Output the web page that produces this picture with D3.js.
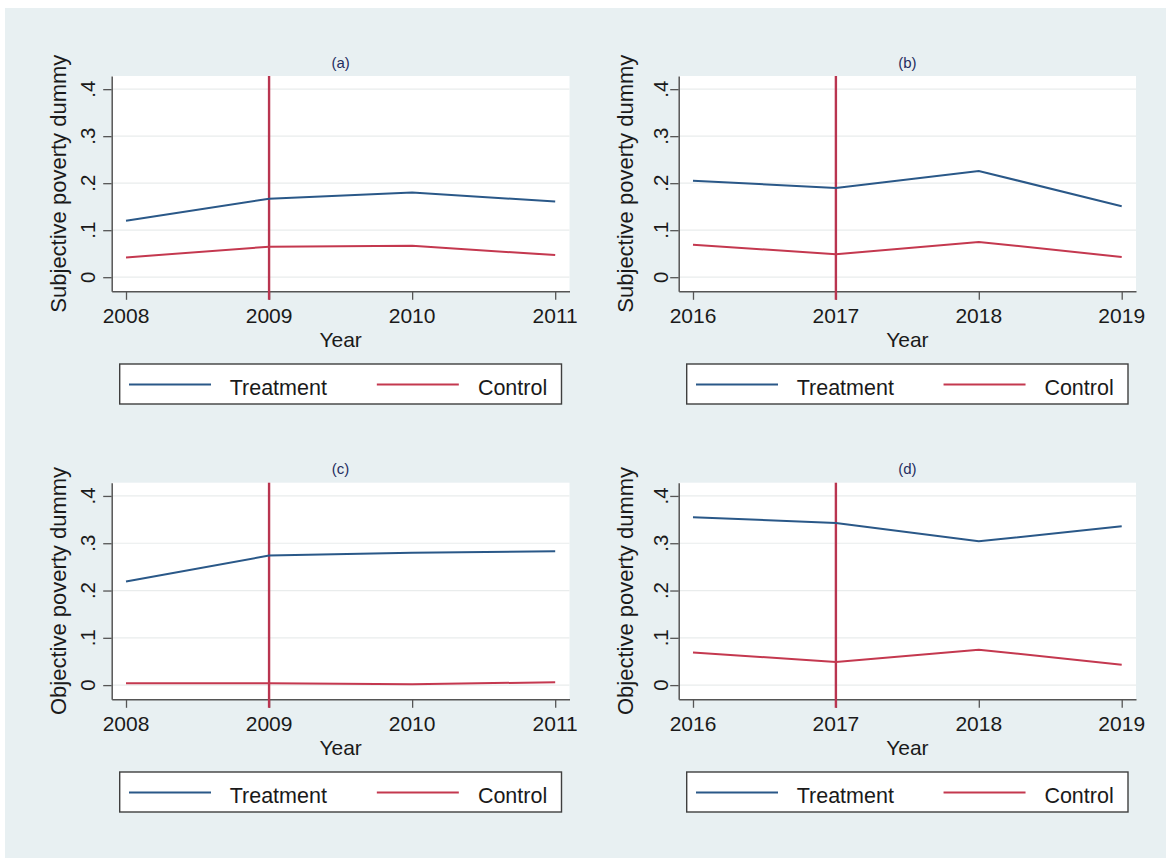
<!DOCTYPE html>
<html>
<head>
<meta charset="utf-8">
<script src="https://cdn.jsdelivr.net/npm/d3@7"></script>
<style>
  body { margin: 0; background: #fff; }
  svg { display: block; }
  text { font-family: "Liberation Sans", Arial, Helvetica, sans-serif; }
</style>
</head>
<body>
<div id="chart"></div>
<script>
// Survey waves
const years1 = [2008, 2009, 2010, 2011];
const years2 = [2016, 2017, 2018, 2019];
const eventYear1 = 2009;
const eventYear2 = 2017;

// Share of households in poverty, by group
const subjTreat1 = [0.120, 0.167, 0.180, 0.161];
const subjCtrl1  = [0.042, 0.065, 0.067, 0.047];
const subjTreat2 = [0.205, 0.190, 0.226, 0.151];
const subjCtrl2  = [0.069, 0.049, 0.075, 0.043];
const objTreat1  = [0.219, 0.274, 0.280, 0.283];
const objCtrl1   = [0.004, 0.004, 0.002, 0.006];
const objTreat2  = [0.355, 0.343, 0.304, 0.336];
const objCtrl2   = [0.069, 0.049, 0.075, 0.043];

const yTicks = [0, 0.1, 0.2, 0.3, 0.4];
const yTickLabels = ["0", ".1", ".2", ".3", ".4"];
const panelTitles = ["(a)", "(b)", "(c)", "(d)"];
const yTitles = ["Subjective poverty dummy", "Objective poverty dummy"];
const xTitle = "Year";
const seriesNames = ["Treatment", "Control"];

const colors = { treat: "#2a5888", ctrl: "#c4384f", event: "#b93550", ink: "#1a1a1a", axis: "#555" };

const panels = [
  { title: panelTitles[0], years: years1, treat: subjTreat1, ctrl: subjCtrl1, event: eventYear1, yTitle: yTitles[0], col: 0, row: 0 },
  { title: panelTitles[1], years: years2, treat: subjTreat2, ctrl: subjCtrl2, event: eventYear2, yTitle: yTitles[0], col: 1, row: 0 },
  { title: panelTitles[2], years: years1, treat: objTreat1,  ctrl: objCtrl1,  event: eventYear1, yTitle: yTitles[1], col: 0, row: 1 },
  { title: panelTitles[3], years: years2, treat: objTreat2,  ctrl: objCtrl2,  event: eventYear2, yTitle: yTitles[1], col: 1, row: 1 }
];

// Layout of the 2x2 grid
const cols = [
  { left: 111.7, right: 569.5, tickLabGap: 16.5, pad: 0.1 },
  { left: 678.7, right: 1136, tickLabGap: 11, pad: 0.1 }
];
const rows = [
  { top: 76, bottom: 291.3 },
  { top: 482.7, bottom: 699.3 }
];

const W = 1166, H = 858;
const xTickFs = 21, yTickFs = 20.5, legendFs = 21.5, capRatio = 0.716;

const svg = d3.select("#chart").append("svg").attr("width", W).attr("height", H);
svg.append("rect").attr("width", W).attr("height", H).attr("fill", "#fff");
svg.append("rect").attr("x", 5).attr("y", 8).attr("width", W - 5).attr("height", H - 8).attr("fill", "#e8f0f2");

function hText(parent, x, y, str, size, anchor, fill) {
  return parent.append("text")
    .attr("x", x).attr("y", y)
    .attr("text-anchor", anchor).attr("font-size", size).attr("fill", fill)
    .text(str);
}

panels.forEach(p => {
  const c = cols[p.col], r = rows[p.row];
  const x = d3.scaleLinear()
    .domain([p.years[0] - c.pad, p.years[p.years.length - 1] + c.pad])
    .range([c.left, c.right]);
  const y = d3.scaleLinear().domain([-0.03, 0.428]).range([r.bottom, r.top]);
  const g = svg.append("g");
  const cx = (c.left + c.right) / 2;

  // plot region
  g.append("rect")
    .attr("x", c.left).attr("y", r.top)
    .attr("width", c.right - c.left).attr("height", r.bottom - r.top)
    .attr("fill", "#fff");

  // horizontal grid
  g.selectAll(".grid").data(yTicks).join("line")
    .attr("x1", c.left).attr("x2", c.right)
    .attr("y1", d => y(d)).attr("y2", d => y(d))
    .attr("stroke", "#e9ecec").attr("stroke-width", 1.2);

  // axes (lines and ticks; labels set separately)
  const yAxis = g.append("g").attr("transform", `translate(${c.left},0)`)
    .call(d3.axisLeft(y).tickValues(yTicks).tickFormat("").tickSize(8.5).tickSizeOuter(0));
  const xAxis = g.append("g").attr("transform", `translate(0,${r.bottom})`)
    .call(d3.axisBottom(x).tickValues(p.years).tickFormat("").tickSize(8.5).tickSizeOuter(0));
  [yAxis, xAxis].forEach(a => {
    a.select(".domain").attr("stroke", colors.axis).attr("stroke-width", 1.5);
    a.selectAll(".tick line").attr("stroke", colors.axis).attr("stroke-width", 1.3);
    a.selectAll(".tick text").remove();
  });

  // y tick labels, rotated, baseline facing the axis
  g.selectAll(".ylab").data(yTicks).join("text")
    .attr("transform", d => `translate(${c.left - c.tickLabGap},${y(d)}) rotate(-90)`)
    .attr("text-anchor", "middle").attr("font-size", yTickFs).attr("fill", colors.ink)
    .text((d, i) => yTickLabels[i]);

  // x tick labels
  p.years.forEach(yr => hText(g, x(yr), r.bottom + 32, d3.format("d")(yr), xTickFs, "middle", colors.ink));

  // treatment onset
  g.append("line")
    .attr("x1", x(p.event)).attr("x2", x(p.event))
    .attr("y1", r.top).attr("y2", r.bottom + 8.5)
    .attr("stroke", colors.event).attr("stroke-width", 2.4);

  // series
  const line = d3.line().x((d, i) => x(p.years[i])).y(d => y(d));
  g.append("path").datum(p.ctrl).attr("d", line)
    .attr("fill", "none").attr("stroke", colors.ctrl).attr("stroke-width", 2);
  g.append("path").datum(p.treat).attr("d", line)
    .attr("fill", "none").attr("stroke", colors.treat).attr("stroke-width", 2);

  // panel title
  hText(g, cx, r.top - 8.5, p.title, 15, "middle", "#1f2d5e");

  // axis titles
  hText(g, cx, r.bottom + 56, xTitle, 21, "middle", colors.ink);
  g.append("text")
    .attr("transform", `translate(${c.left - 45.5},${(r.top + r.bottom) / 2}) rotate(-90)`)
    .attr("text-anchor", "middle").attr("font-size", 22).attr("fill", colors.ink)
    .text(p.yTitle);

  // legend
  const lx = c.left + 8, lw = (c.right - c.left) - 16, ly = r.bottom + 72.7, lh = 40;
  const lg = g.append("g").attr("transform", `translate(${lx},${ly})`);
  lg.append("rect").attr("width", lw).attr("height", lh)
    .attr("fill", "#fff").attr("stroke", "#3f3f3f").attr("stroke-width", 1.4);
  const keys = [
    { name: seriesNames[0], color: colors.treat, x0: 9.3, anchor: "start", tx: 110 },
    { name: seriesNames[1], color: colors.ctrl, x0: 0.582 * lw, anchor: "end", tx: lw - 14.3 }
  ];
  keys.forEach(k => {
    lg.append("line").attr("x1", k.x0).attr("x2", k.x0 + 82)
      .attr("y1", 20.5).attr("y2", 20.5)
      .attr("stroke", k.color).attr("stroke-width", 1.8);
    hText(lg, k.tx, 31, k.name, legendFs, k.anchor, colors.ink);
  });
});
</script>
</body>
</html>
